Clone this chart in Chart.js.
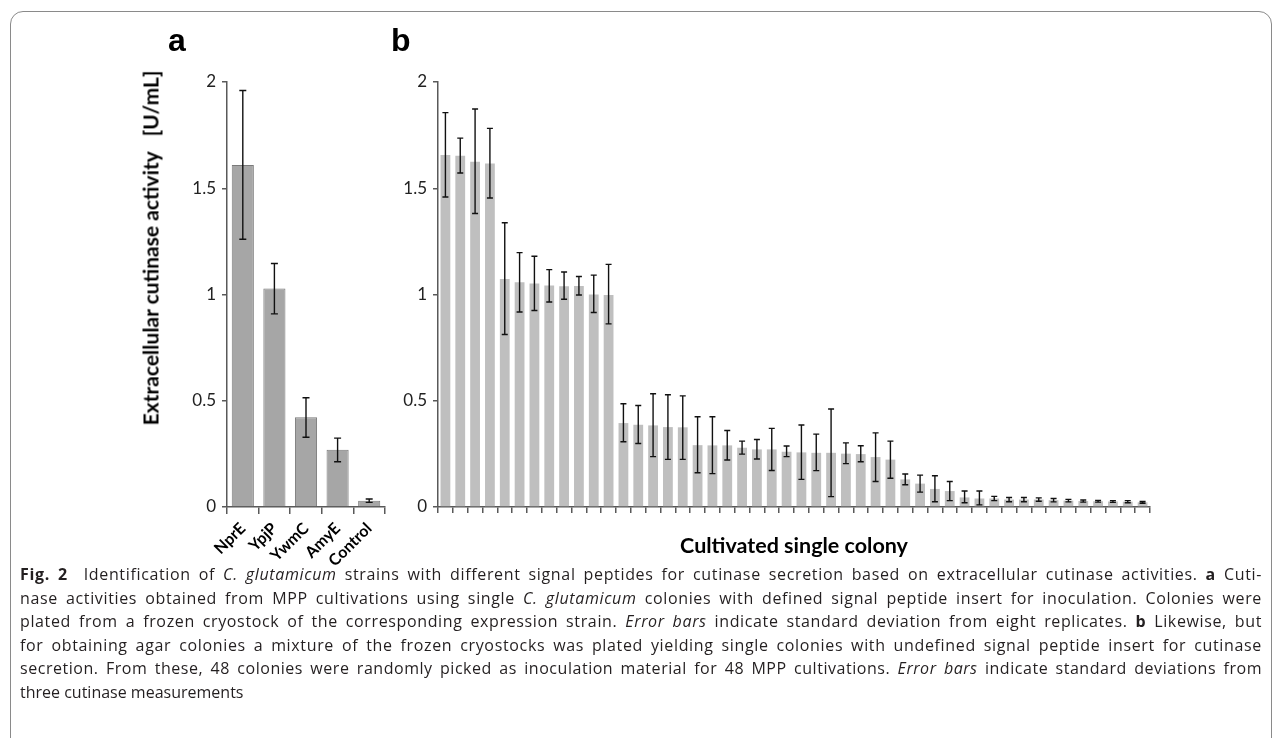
<!DOCTYPE html>
<html><head><meta charset="utf-8">
<script src="https://cdn.jsdelivr.net/npm/chart.js@4.4.0/dist/chart.umd.min.js"></script>
<style>
html,body{margin:0;padding:0;background:#fff;width:1282px;height:738px;overflow:hidden;position:relative;}
#frame{position:absolute;left:10px;top:11px;width:1262px;height:790px;border:1.5px solid #8a8a8a;border-radius:13px;box-sizing:border-box;}
canvas{position:absolute;top:0;}
#cA{left:0;}
#cB{left:380px;}
.plab{position:absolute;font:bold 32px "Liberation Sans",Arial,sans-serif;color:#000;line-height:1;}
#ytitle{position:absolute;left:150px;top:248px;transform:translate(-50%,-50%) rotate(-90deg);white-space:pre;font:bold 21px Lato,sans-serif;color:#000;}
#xtitle{position:absolute;left:794px;top:545px;transform:translate(-50%,-50%);white-space:pre;font:bold 21.5px Lato,sans-serif;color:#000;}
#caption{position:absolute;left:20px;top:563px;width:1242px;font:16px "Open Sans",sans-serif;color:#231f20;}
#caption div{height:23.5px;line-height:23.5px;white-space:nowrap;text-align:justify;text-align-last:justify;}
#caption div.last{text-align-last:left;}
</style></head>
<body>
<div id="frame"></div>
<canvas id="cA" width="400" height="600"></canvas>
<canvas id="cB" width="800" height="600"></canvas>
<div class="plab" style="left:168px;top:24px;">a</div>
<div class="plab" style="left:391px;top:24px;">b</div>
<div id="ytitle">Extracellular cutinase activity   [U/mL]</div>
<div id="xtitle">Cultivated single colony</div>
<div id="caption">
<div><b>Fig. 2</b>&nbsp; Identification of <i>C. glutamicum</i> strains with different signal peptides for cutinase secretion based on extracellular cutinase activities. <b>a</b> Cuti-</div>
<div>nase activities obtained from MPP cultivations using single <i>C. glutamicum</i> colonies with defined signal peptide insert for inoculation. Colonies were</div>
<div>plated from a frozen cryostock of the corresponding expression strain. <i>Error bars</i> indicate standard deviation from eight replicates. <b>b</b> Likewise, but</div>
<div>for obtaining agar colonies a mixture of the frozen cryostocks was plated yielding single colonies with undefined signal peptide insert for cutinase</div>
<div>secretion. From these, 48 colonies were randomly picked as inoculation material for 48 MPP cultivations. <i>Error bars</i> indicate standard deviations from</div>
<div class="last">three cutinase measurements</div>
</div>
<script>
// ---------- data ----------
const aCategories = ['NprE', 'YpjP', 'YwmC', 'AmyE', 'Control'];
const aMeans   = [1.61, 1.028, 0.422, 0.269, 0.030];
const aErrTop  = [1.96, 1.146, 0.514, 0.324, 0.038];
const aErrBot  = [1.26, 0.909, 0.328, 0.213, 0.022];

const bCategories = Array.from({length: 48}, (_, i) => String(i + 1));
const bMeans = [1.656,1.653,1.625,1.616,1.073,1.058,1.052,1.042,1.039,1.040,1.000,0.998,
                0.395,0.387,0.384,0.376,0.375,0.291,0.290,0.290,0.279,0.271,0.271,0.260,
                0.257,0.255,0.255,0.251,0.249,0.235,0.223,0.130,0.110,0.085,0.075,0.045,
                0.040,0.040,0.035,0.035,0.035,0.032,0.030,0.028,0.027,0.026,0.025,0.022];
const bErrTop = [1.856,1.736,1.873,1.782,1.338,1.197,1.180,1.117,1.106,1.085,1.091,1.142,
                 0.486,0.478,0.533,0.528,0.523,0.425,0.425,0.360,0.310,0.318,0.370,0.287,
                 0.386,0.343,0.461,0.302,0.288,0.349,0.310,0.155,0.150,0.147,0.120,0.075,
                 0.075,0.050,0.045,0.045,0.043,0.040,0.036,0.033,0.031,0.030,0.030,0.026];
const bErrBot = [1.459,1.572,1.381,1.454,0.812,0.918,0.925,0.965,0.978,0.998,0.915,0.862,
                 0.307,0.299,0.237,0.224,0.224,0.161,0.157,0.221,0.249,0.226,0.172,0.237,
                 0.130,0.171,0.049,0.204,0.213,0.120,0.135,0.105,0.070,0.025,0.030,0.020,
                 0.010,0.030,0.025,0.025,0.027,0.024,0.024,0.023,0.023,0.022,0.020,0.018];
const yTickValues = [0, 0.5, 1, 1.5, 2];
const yTickLabels = ['0', '0.5', '1', '1.5', '2'];

// ---------- caption fitting (spread extra room partly into letter spacing) ----------
document.querySelectorAll('#caption div:not(.last)').forEach(d => {
  const span = document.createElement('span');
  while (d.firstChild) span.appendChild(d.firstChild);
  d.appendChild(span);
  d.style.textAlignLast = 'left';
  d.style.textAlign = 'left';
  const w = span.getBoundingClientRect().width;
  d.style.textAlignLast = '';
  d.style.textAlign = '';
  const n = d.textContent.length;
  const extra = 1242 - w;
  if (extra > 0) d.style.letterSpacing = (extra * 0.6 / n).toFixed(3) + 'px';
  else d.style.letterSpacing = (extra / n).toFixed(3) + 'px';
});

// ---------- error bar plugin ----------
const errorBars = {
  id: 'errorBars',
  afterDatasetsDraw(chart, args, opts) {
    const ctx = chart.ctx;
    const meta = chart.getDatasetMeta(0);
    const ys = chart.scales.y;
    ctx.save();
    ctx.strokeStyle = '#111';
    ctx.lineWidth = opts.lineWidth || 1.5;
    meta.data.forEach((bar, i) => {
      const x = bar.x;
      const yt = ys.getPixelForValue(opts.top[i]);
      const yb = ys.getPixelForValue(opts.bottom[i]);
      const c = opts.cap;
      ctx.beginPath();
      ctx.moveTo(x, yt); ctx.lineTo(x, yb);
      ctx.moveTo(x - c, yt); ctx.lineTo(x + c, yt);
      ctx.moveTo(x - c, yb); ctx.lineTo(x + c, yb);
      ctx.stroke();
    });
    ctx.restore();
  }
};

function yScale(width) {
  return {
    min: 0, max: 2,
    afterFit(s) { s.width = width; },
    afterBuildTicks(s) { s.ticks = yTickValues.map(v => ({value: v})); },
    ticks: {
      callback: (v) => yTickLabels[yTickValues.indexOf(v)],
      color: '#222', font: {family: 'Lato', size: 17}, padding: 6
    },
    grid: {drawOnChartArea: false, drawTicks: true, tickLength: 5, color: '#595959', lineWidth: 1.5},
    border: {display: true, color: '#595959', width: 1.5}
  };
}

Chart.defaults.animation = false;

new Chart(document.getElementById('cA'), {
  type: 'bar',
  data: {labels: aCategories, datasets: [{
    data: aMeans, backgroundColor: '#a6a6a6', borderColor: '#7a7a7a', borderWidth: 1,
    barPercentage: 0.7, categoryPercentage: 1.0
  }]},
  options: {
    responsive: false,
    layout: {padding: {top: 82, right: 15, bottom: 0, left: 0}},
    plugins: {legend: {display: false}, tooltip: {enabled: false},
      errorBars: {top: aErrTop, bottom: aErrBot, cap: 3.5, lineWidth: 1.4}},
    scales: {
      x: {
        afterFit(s) { s.height = 93; },
        ticks: {color: '#000', font: {family: 'Lato', size: 16, weight: 'bold'}, minRotation: 45, maxRotation: 45, padding: 5},
        grid: {drawOnChartArea: false, drawTicks: true, tickLength: 7, color: '#595959', lineWidth: 1.5, offset: true},
        border: {display: true, color: '#595959', width: 1.5}
      },
      y: yScale(227)
    }
  },
  plugins: [errorBars]
});

new Chart(document.getElementById('cB'), {
  type: 'bar',
  data: {labels: bCategories, datasets: [{
    data: bMeans, backgroundColor: '#bfbfbf', borderWidth: 0,
    barPercentage: 0.66, categoryPercentage: 1.0
  }]},
  options: {
    responsive: false,
    layout: {padding: {top: 82, right: 30, bottom: 0, left: 0}},
    plugins: {legend: {display: false}, tooltip: {enabled: false},
      errorBars: {top: bErrTop, bottom: bErrBot, cap: 3, lineWidth: 1.4}},
    scales: {
      x: {
        afterFit(s) { s.height = 93; },
        ticks: {display: false},
        grid: {drawOnChartArea: false, drawTicks: true, tickLength: 6, color: '#595959', lineWidth: 1.5, offset: true},
        border: {display: true, color: '#595959', width: 1.5}
      },
      y: yScale(58)
    }
  },
  plugins: [errorBars]
});
</script>
</body></html>
